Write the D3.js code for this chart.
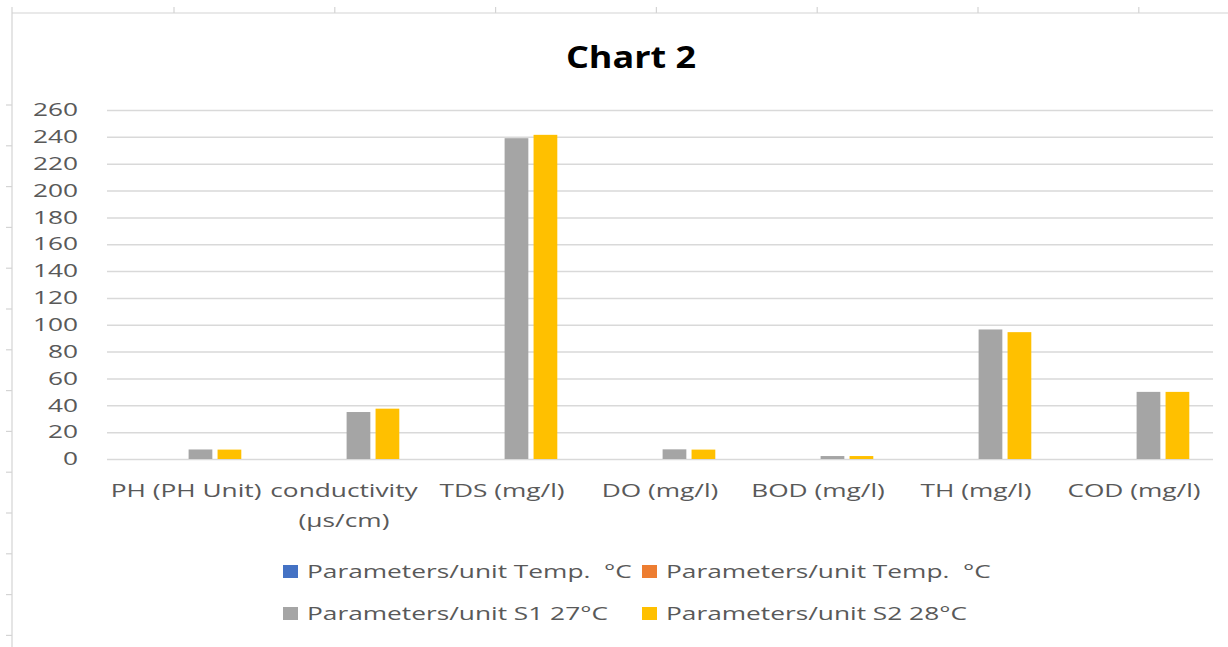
<!DOCTYPE html>
<html>
<head>
<meta charset="utf-8">
<script src="https://cdn.jsdelivr.net/npm/d3@7"></script>
<style>
  body { margin: 0; background: #fff; }
  svg { display: block; font-family: "Open Sans", sans-serif; }
</style>
</head>
<body>
<div id="chart"></div>
<script>
// data
var categories = ["PH (PH Unit)", "conductivity\n(µs/cm)", "TDS (mg/l)", "DO (mg/l)", "BOD (mg/l)", "TH (mg/l)", "COD (mg/l)"];
var seriesNames = ["Parameters/unit Temp.  °C", "Parameters/unit Temp.  °C", "Parameters/unit S1 27°C", "Parameters/unit S2 28°C"];
var seriesColors = ["#4472c4", "#ed7d31", "#a5a5a5", "#ffc000"];
var tempA = [0, 0, 0, 0, 0, 0, 0];
var tempB = [0, 0, 0, 0, 0, 0, 0];
var s1 = [7.1, 35, 239, 7.2, 2.2, 96.5, 50];
var s2 = [7.0, 37.5, 241.5, 7.0, 2.2, 94.5, 50];
var yTicks = [0, 20, 40, 60, 80, 100, 120, 140, 160, 180, 200, 220, 240, 260];

var W = 1228, H = 647;
var SX = 1.46; // the screenshot is stretched sideways
var textColor = "#595959";

var svg = d3.select("#chart").append("svg")
	.attr("width", W)
	.attr("height", H);

// spreadsheet cell borders behind the chart
var sheet = svg.append("g").attr("stroke", "#d4d4d4").attr("stroke-width", 1.2);
sheet.append("line").attr("x1", 12).attr("x2", W).attr("y1", 13).attr("y2", 13);
sheet.append("line").attr("x1", 12).attr("x2", 12).attr("y1", 7).attr("y2", H);
sheet.selectAll(".colTick").data(d3.range(174, W, 160.8)).enter().append("line")
	.attr("x1", function (d) { return d; }).attr("x2", function (d) { return d; })
	.attr("y1", 7).attr("y2", 13);
sheet.selectAll(".rowTick").data(d3.range(105, H, 40.8)).enter().append("line")
	.attr("x1", 6).attr("x2", 12)
	.attr("y1", function (d) { return d; }).attr("y2", function (d) { return d; });

var plot = { left: 107, right: 1213, top: 110, bottom: 459 };

var x0 = d3.scaleBand()
	.domain(categories)
	.range([plot.left, plot.right])
	.paddingInner(0.3)
	.paddingOuter(0.15);

var x1 = d3.scaleBand()
	.domain(d3.range(seriesNames.length))
	.range([0, x0.bandwidth()])
	.paddingInner(0.18);

var y = d3.scaleLinear()
	.domain([0, 260])
	.range([plot.bottom, plot.top]);

// y axis + gridlines
var yAxis = d3.axisLeft(y)
	.tickValues(yTicks)
	.tickSize(-(plot.right - plot.left))
	.tickPadding(29);

var gy = svg.append("g")
	.attr("transform", "translate(" + plot.left + ",0)")
	.call(yAxis);
gy.select(".domain").remove();
gy.selectAll(".tick line").attr("stroke", "#d9d9d9").attr("stroke-width", 1.5);
gy.selectAll(".tick text")
	.attr("fill", textColor)
	.attr("font-size", 18)
	.attr("font-family", "Open Sans")
	.attr("x", -29 / SX)
	.attr("transform", "scale(" + SX + ",1)");

// bars
var seriesValues = [tempA, tempB, s1, s2];
var groups = svg.append("g").selectAll("g")
	.data(categories)
	.enter().append("g")
	.attr("transform", function (d) { return "translate(" + x0(d) + ",0)"; });

groups.selectAll("rect")
	.data(function (d, i) {
		return seriesValues.map(function (vals, k) { return { k: k, v: vals[i] }; });
	})
	.enter().append("rect")
	.attr("x", function (d) { return x1(d.k); })
	.attr("width", x1.bandwidth())
	.attr("y", function (d) { return y(d.v); })
	.attr("height", function (d) { return y(0) - y(d.v); })
	.attr("fill", function (d) { return seriesColors[d.k]; });

// x axis labels
var xAxis = d3.axisBottom(x0).tickSize(0).tickPadding(0);
var gx = svg.append("g")
	.attr("transform", "translate(0," + plot.bottom + ")")
	.call(xAxis);
gx.select(".domain").remove();
gx.selectAll(".tick text").each(function (d) {
	var t = d3.select(this);
	var lines = d.split("\n");
	t.text(null)
		.attr("y", 0)
		.attr("dy", null)
		.attr("fill", textColor)
		.attr("font-size", 18)
		.attr("font-family", "Open Sans")
		.attr("transform", "scale(" + SX + ",1)");
	lines.forEach(function (line, i) {
		t.append("tspan")
			.attr("x", 0)
			.attr("y", 38 + i * 30)
			.text(line);
	});
});

// title
svg.append("text")
	.attr("transform", "translate(" + (W / 2 + 17) + ",68) scale(1.2,1)")
	.attr("text-anchor", "middle")
	.attr("font-size", 30)
	.attr("font-weight", "bold")
	.attr("fill", "#000")
	.text("Chart 2");

// legend, two rows of two
var legend = svg.append("g").selectAll("g")
	.data(seriesNames)
	.enter().append("g")
	.attr("transform", function (d, i) {
		return "translate(" + (283 + (i % 2) * 359) + "," + (565 + Math.floor(i / 2) * 42) + ")";
	});
legend.append("rect")
	.attr("width", 15)
	.attr("height", 13)
	.attr("fill", function (d, i) { return seriesColors[i]; });
legend.append("text")
	.attr("transform", "translate(24,13) scale(" + SX + ",1)")
	.attr("font-size", 18)
	.attr("fill", textColor)
	.style("white-space", "pre")
	.text(function (d) { return d; });
</script>
</body>
</html>
